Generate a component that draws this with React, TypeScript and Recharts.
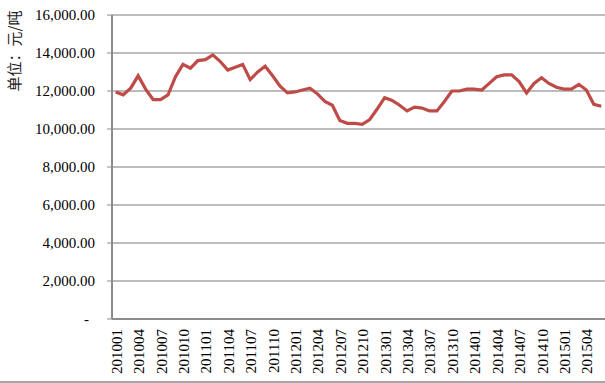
import { LineChart, Line, XAxis, YAxis, CartesianGrid } from 'recharts';

const months = [
  '201001', '201002', '201003', '201004', '201005', '201006', '201007', '201008', '201009', '201010', '201011', '201012',
  '201101', '201102', '201103', '201104', '201105', '201106', '201107', '201108', '201109', '201110', '201111', '201112',
  '201201', '201202', '201203', '201204', '201205', '201206', '201207', '201208', '201209', '201210', '201211', '201212',
  '201301', '201302', '201303', '201304', '201305', '201306', '201307', '201308', '201309', '201310', '201311', '201312',
  '201401', '201402', '201403', '201404', '201405', '201406', '201407', '201408', '201409', '201410', '201411', '201412',
  '201501', '201502', '201503', '201504', '201505', '201506',
];

const prices = [
  11950, 11800, 12150, 12800, 12100, 11550, 11550, 11800, 12750, 13400, 13200, 13600,
  13650, 13900, 13550, 13100, 13250, 13400, 12600, 13000, 13300, 12800, 12250, 11900,
  11950, 12050, 12150, 11850, 11450, 11250, 10450, 10300, 10300, 10250, 10500, 11050,
  11650, 11500, 11250, 10950, 11150, 11100, 10950, 10950, 11450, 12000, 12000, 12100,
  12100, 12050, 12400, 12750, 12850, 12850, 12500, 11900, 12400, 12700, 12400, 12200,
  12100, 12100, 12350, 12050, 11300, 11200,
];

const yTicks = [0, 2000, 4000, 6000, 8000, 10000, 12000, 14000, 16000];

const data = months.map((m, i) => ({ idx: i, month: m, price: prices[i] }));
const labelTicks = months.map((_, i) => i).filter((i) => i % 3 === 0);
const minorTicks = [...months.map((_, i) => i - 0.5), months.length - 0.5];

const serif = '"Liberation Serif", "Times New Roman", serif';

const XTick = ({ x, y, payload }: any) => (
  <text
    transform={`translate(${x + 1},${y + 10}) rotate(-90)`}
    textAnchor="end"
    dominantBaseline="central"
    fontFamily={serif}
    fontSize={15}
    fill="#000"
  >
    {months[payload.value]}
  </text>
);

const YTick = ({ x, y, payload }: any) => {
  const v = payload.value;
  const text = v === 0 ? '-' : v.toLocaleString('en-US', { minimumFractionDigits: 2, maximumFractionDigits: 2 });
  return (
    <text x={v === 0 ? x - 6 : x} y={y} textAnchor="end" dominantBaseline="central" fontFamily={serif} fontSize={15} fill="#000">
      {text}
    </text>
  );
};

const YLabel = () => (
  <text
    transform="translate(13,51) rotate(-90)"
    textAnchor="middle"
    dominantBaseline="central"
    fontFamily='"Noto Sans CJK SC", sans-serif'
    fontSize={15}
    fill="#222"
  >
    单位：元/吨
  </text>
);

export default function App() {
  return (
    <div style={{ position: 'absolute', left: 0, top: 0, width: 605, height: 383, background: '#fff' }}>
      <div style={{ borderBottom: '2px solid #a6a6a6', width: 605, height: 381 }}>
        <LineChart width={605} height={381} data={data} margin={{ top: 15, right: 0, bottom: 0, left: 0 }}>
          <CartesianGrid vertical={false} stroke="#a6a6a6" strokeWidth={1.5} />
          <XAxis
            xAxisId="minor"
            type="number"
            domain={[-0.5, months.length - 0.5]}
            allowDataOverflow
            ticks={minorTicks}
            tick={false}
            tickSize={4}
            tickLine={{ stroke: '#8c8c8c' }}
            axisLine={false}
            height={0}
          />
          <XAxis
            dataKey="idx"
            type="number"
            domain={[-0.5, months.length - 0.5]}
            allowDataOverflow
            ticks={labelTicks}
            interval={0}
            tick={<XTick />}
            tickSize={0}
            tickMargin={0}
            tickLine={false}
            axisLine={{ stroke: '#8c8c8c', strokeWidth: 2 }}
            height={62}
          />
          <YAxis
            domain={[0, 16000]}
            ticks={yTicks}
            interval={0}
            width={112}
            tick={<YTick />}
            tickSize={5}
            tickMargin={12}
            tickLine={{ stroke: '#8c8c8c' }}
            axisLine={{ stroke: '#8c8c8c', strokeWidth: 2 }}
            label={<YLabel />}
          />
          <Line
            type="linear"
            dataKey="price"
            stroke="#BE4B48"
            strokeWidth={3.2}
            dot={false}
            isAnimationActive={false}
          />
        </LineChart>
      </div>
    </div>
  );
}
